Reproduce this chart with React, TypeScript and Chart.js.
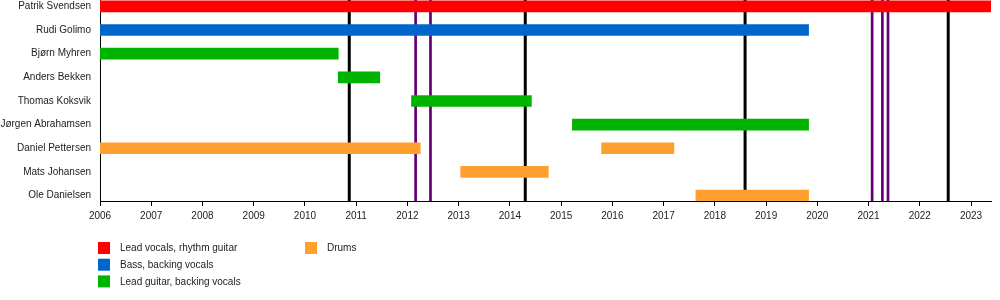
import React, { useEffect, useRef } from "react";
import { Chart, registerables } from "chart.js";

Chart.register(...registerables);

const members = [
  "Patrik Svendsen",
  "Rudi Golimo",
  "Bjørn Myhren",
  "Anders Bekken",
  "Thomas Koksvik",
  "Jørgen Abrahamsen",
  "Daniel Pettersen",
  "Mats Johansen",
  "Ole Danielsen",
];

const roles = [
  "Lead vocals, rhythm guitar",
  "Bass, backing vocals",
  "Lead guitar, backing vocals",
  "Drums",
];
const roleColors = ["#ff0000", "#0066cc", "#00b300", "#ffa02e"];

const vocalsSpans = [{ member: "Patrik Svendsen", start: 2006, end: 2023.39 }];
const bassSpans = [{ member: "Rudi Golimo", start: 2006, end: 2019.83 }];
const guitarSpans = [
  { member: "Bjørn Myhren", start: 2006, end: 2010.65 },
  { member: "Anders Bekken", start: 2010.65, end: 2011.46 },
  { member: "Thomas Koksvik", start: 2012.08, end: 2014.42 },
  { member: "Jørgen Abrahamsen", start: 2015.22, end: 2019.83 },
];
const drumSpans = [
  { member: "Daniel Pettersen", start: 2006, end: 2012.25 },
  { member: "Daniel Pettersen", start: 2015.79, end: 2017.2 },
  { member: "Mats Johansen", start: 2013.04, end: 2014.75 },
  { member: "Ole Danielsen", start: 2017.63, end: 2019.83 },
];
const roleSpans = [vocalsSpans, bassSpans, guitarSpans, drumSpans];

const studioAlbums = [2010.865, 2014.3, 2018.59, 2022.555];
const otherReleases = [2012.16, 2012.45, 2021.07, 2021.27, 2021.38];

const yearTicks = [
  2006, 2007, 2008, 2009, 2010, 2011, 2012, 2013, 2014, 2015, 2016, 2017,
  2018, 2019, 2020, 2021, 2022, 2023,
];

const FONT = "'Liberation Sans', Arial, sans-serif";
const TEXT = "#222";

const releaseLines = {
  id: "releaseLines",
  beforeDatasetsDraw(chart: any) {
    const { ctx, chartArea, scales } = chart;
    const draw = (vals: number[], color: string, w: number) => {
      vals.forEach((v) => {
        const x = scales.x.getPixelForValue(v);
        ctx.save();
        ctx.strokeStyle = color;
        ctx.lineWidth = w;
        ctx.beginPath();
        ctx.moveTo(x, chartArea.top);
        ctx.lineTo(x, chartArea.bottom);
        ctx.stroke();
        ctx.restore();
      });
    };
    draw(studioAlbums, "#000000", 3);
    draw(otherReleases, "#660077", 2.7);
  },
};

const customLegend = {
  id: "customLegend",
  afterDraw(chart: any) {
    const { ctx } = chart;
    ctx.save();
    ctx.font = `10px ${FONT}`;
    ctx.textBaseline = "middle";
    ctx.textAlign = "left";
    roles.forEach((r, i) => {
      const col = Math.floor(i / 3);
      const row = i % 3;
      const x = 98 + col * 207;
      const y = 242 + row * 16.7;
      ctx.fillStyle = roleColors[i];
      ctx.fillRect(x, y, 12, 12);
      ctx.fillStyle = TEXT;
      ctx.fillText(r, x + 22, y + 6.5);
    });
    ctx.restore();
  },
};

export default function App() {
  const ref = useRef<HTMLCanvasElement>(null);
  useEffect(() => {
    if (!ref.current) return;
    const chart = new Chart(ref.current, {
      type: "bar",
      data: {
        datasets: roles.map((r, i) => ({
          label: r,
          data: roleSpans[i].map((s) => ({
            x: [s.start, s.end],
            y: members.indexOf(s.member),
          })) as any,
          backgroundColor: roleColors[i],
          borderWidth: 0,
          barThickness: 11,
          grouped: false,
        })),
      },
      options: {
        indexAxis: "y",
        animation: false,
        responsive: false,
        layout: { autoPadding: false, padding: { left: 0, right: 9, top: 0, bottom: 0 } },
        plugins: { legend: { display: false }, tooltip: { enabled: false } },
        scales: {
          x: {
            type: "linear",
            position: "bottom",
            min: 2006,
            max: 2023.39,
            offset: false,
            afterBuildTicks: (s: any) => {
              s.ticks = yearTicks.map((v) => ({ value: v }));
            },
            afterFit: (s: any) => {
              s.height = 99;
              s.paddingLeft = 0;
              s.paddingRight = 0;
            },
            ticks: {
              callback: (v: any) => String(v),
              font: { family: FONT, size: 10 },
              color: TEXT,
              padding: 4,
              maxRotation: 0,
              autoSkip: false,
            },
            grid: {
              display: true,
              drawOnChartArea: false,
              drawTicks: true,
              tickLength: 5,
              color: "#000",
              lineWidth: 1,
            },
            border: { display: true, color: "#000", width: 1 },
          },
          y: {
            type: "linear",
            reverse: true,
            offset: false,
            min: -0.27,
            max: 8.23,
            afterBuildTicks: (s: any) => {
              s.ticks = members.map((_, i) => ({ value: i }));
            },
            afterFit: (s: any) => {
              s.width = 100;
              s.paddingTop = 0;
              s.paddingBottom = 0;
            },
            ticks: {
              callback: (v: any) => members[v],
              font: { family: FONT, size: 10 },
              color: TEXT,
              padding: 9,
              autoSkip: false,
            },
            grid: { display: false, drawTicks: false, offset: false },
            border: { display: true, color: "#000", width: 1 },
          },
        },
      } as any,
      plugins: [releaseLines, customLegend],
    });
    return () => chart.destroy();
  }, []);
  return (
    <div style={{ position: "fixed", left: 0, top: 0, width: 1000, height: 300, background: "#fff" }}>
      <canvas ref={ref} width={1000} height={300} style={{ width: 1000, height: 300 }} />
    </div>
  );
}
